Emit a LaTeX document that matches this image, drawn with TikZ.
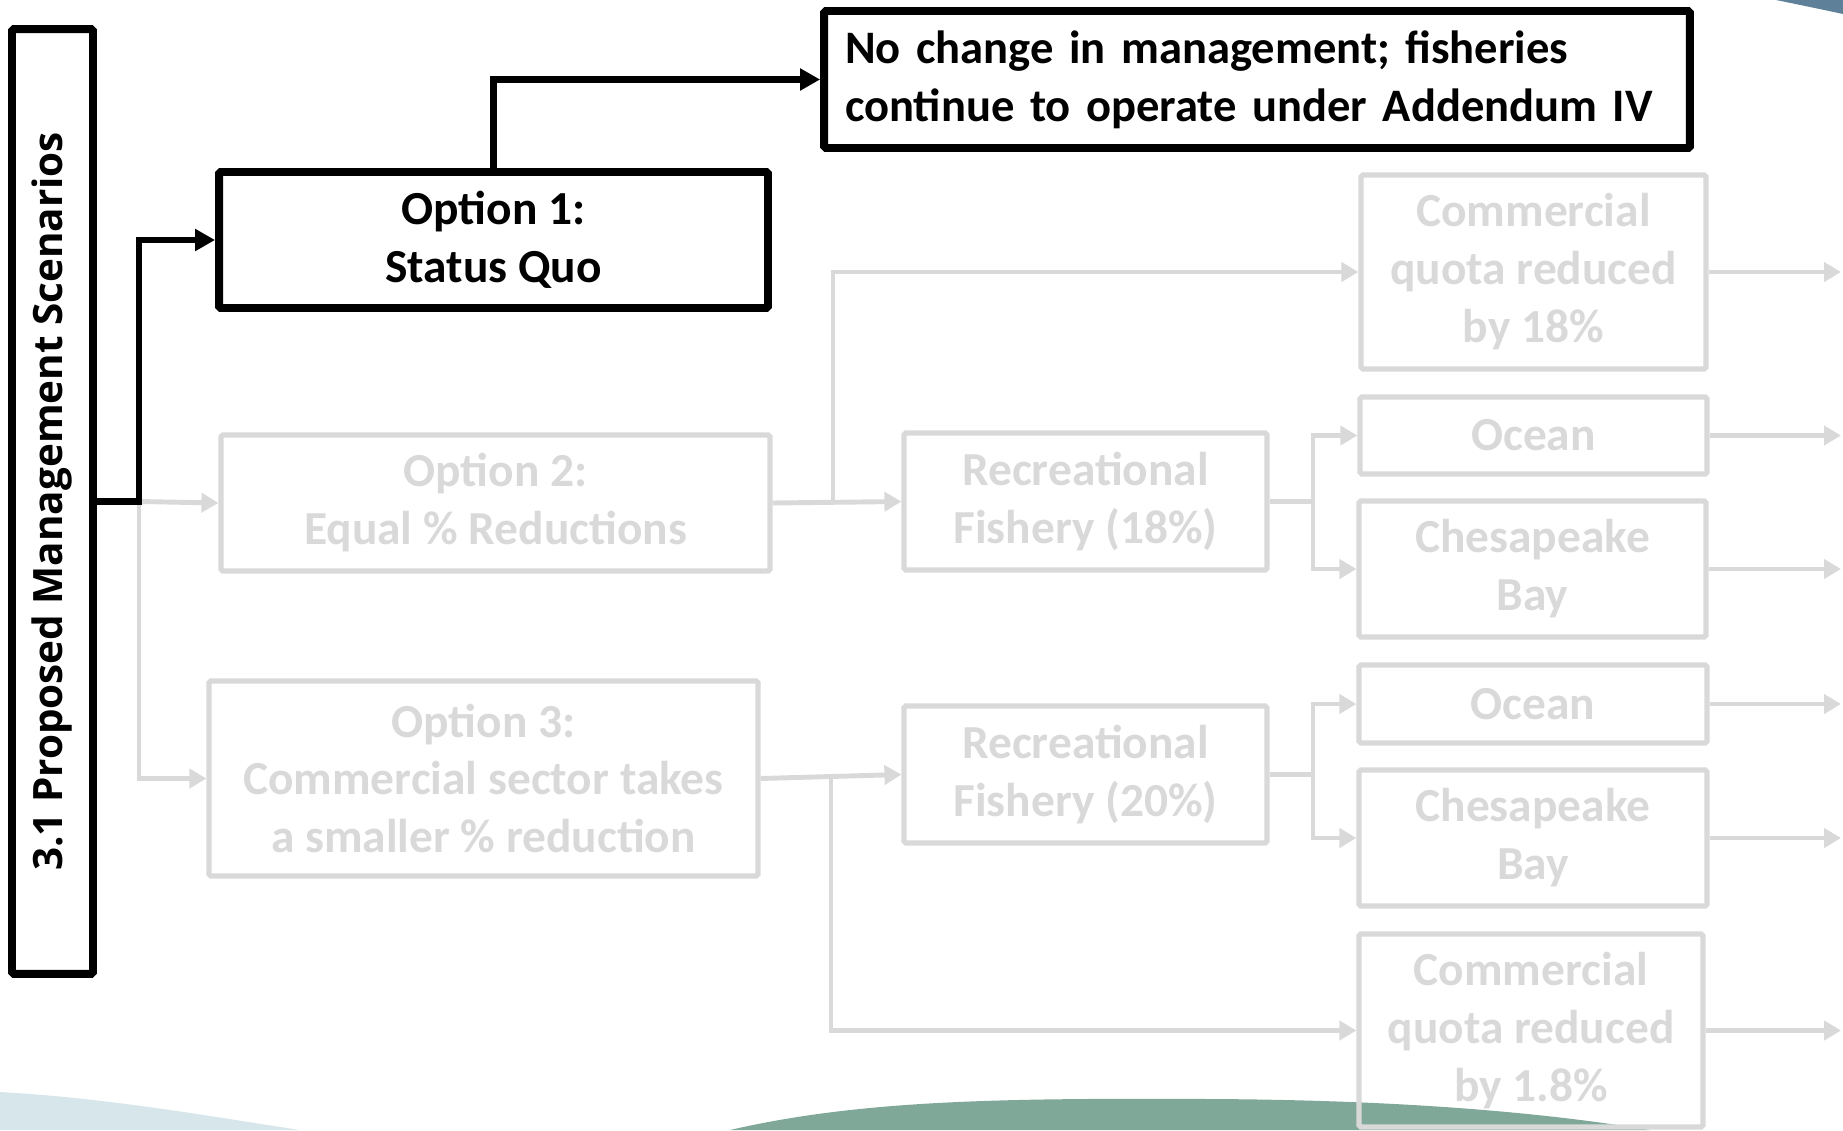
\documentclass[tikz,border=0pt]{standalone}
\usepackage{fontspec}
\setmainfont{Carlito}
\newfontfamily\titlefont{Open Sans}
\usetikzlibrary{arrows.meta}
\usetikzlibrary{positioning}
\definecolor{fade}{HTML}{D9D9D9}
\definecolor{seagreen}{HTML}{80A899}
\definecolor{mist}{HTML}{D7E6EA}
\definecolor{steel}{HTML}{5E8199}
\tikzset{
    on/.style={
           rectangle, rounded corners=1pt,
           draw=black, line width=4.5pt,
           inner sep=0pt, align=center,
           font=\fontsize{27}{33}\selectfont\bfseries,
           },
}
\tikzset{
    off/.style={
           rectangle, rounded corners=1pt,
           draw=fade, line width=3pt, text=fade,
           inner sep=0pt, align=center,
           font=\fontsize{27}{33}\selectfont\bfseries,
           },
}
\tikzset{
    onlink/.style={draw=black, line width=3.5pt, -{Triangle[length=0.4cm,width=0.42cm]}},
    offlink/.style={draw=fade, line width=2.8pt, -{Triangle[length=0.34cm,width=0.38cm]}},
}

\begin{document}
\begin{tikzpicture}[x=0.02cm,y=-0.02cm]
\useasboundingbox (0,0) rectangle (1843,1130);
% background swooshes
\fill[mist] (0,1092) .. controls (110,1098) and (220,1118) .. (300,1130) -- (0,1130) -- cycle;
\fill[seagreen] (730,1130) .. controls (860,1100) and (1000,1098) .. (1210,1099) .. controls (1400,1100) and (1540,1112) .. (1650,1130) -- cycle;
\fill[steel] (1776,0) -- (1843,0) -- (1843,14) .. controls (1815,8) .. (1776,0) -- cycle;

% boxes
\node[on,rotate=90,minimum width=18.9cm,minimum height=1.62cm,font=\titlefont\fontsize{23}{28}\selectfont\bfseries](title) at (52.5,501.5){3.1 Proposed Management Scenarios};
\node[on,minimum width=10.98cm,minimum height=2.72cm](opt1) at (493.5,240){Option 1:\\Status Quo};
\node[on,text width=16.48cm,inner xsep=0.42cm,minimum height=2.74cm,align=left,font=\fontsize{26.5}{33}\selectfont\bfseries](nochange) at (1257,79.5){No change in management; fisheries\\continue to operate under Addendum IV};
\node[off,minimum width=10.98cm,minimum height=2.72cm](opt2) at (495.5,503){Option 2:\\Equal \% Reductions};
\node[off,minimum width=10.98cm,minimum height=3.9cm](opt3) at (483.5,778.5){Option 3:\\Commercial sector takes\\a smaller \% reduction};
\node[off,minimum width=7.26cm,minimum height=2.74cm](rec18) at (1085.5,501.5){Recreational\\Fishery (18\%)};
\node[off,minimum width=7.26cm,minimum height=2.74cm](rec20) at (1085.5,774.5){Recreational\\Fishery (20\%)};
\node[off,minimum width=6.9cm,minimum height=3.88cm](com18) at (1533.5,272){Commercial\\quota reduced\\by 18\%};
\node[off,minimum width=6.94cm,minimum height=1.54cm](ocean1) at (1533.5,435.5){Ocean};
\node[off,minimum width=6.94cm,minimum height=2.72cm](ches1) at (1532.5,569){Chesapeake\\Bay};
\node[off,minimum width=6.96cm,minimum height=1.56cm](ocean2) at (1533,704){Ocean};
\node[off,minimum width=6.96cm,minimum height=2.72cm](ches2) at (1533,838){Chesapeake\\Bay};
\node[off,minimum width=6.88cm,minimum height=3.86cm](com18b) at (1531,1030.5){Commercial\\quota reduced\\by 1.8\%};

% branch points
\coordinate (split) at (139,501.5);
\coordinate (split2) at (833,503);
\coordinate (split3) at (1313,501.5);
\coordinate (split4) at (831,776.5);
\coordinate (split5) at (1313,774.5);
\coordinate (edge) at (1841,0);

% faded links
\draw[offlink] (split) -- (opt2.west);
\draw[offlink] (split) |- (opt3.west);
\draw[offlink] (opt2.east) -- (rec18.west);
\draw[offlink] (split2) |- (com18.west);
\draw[offlink] (rec18.east) -- (split3) |- (ocean1.west);
\draw[offlink] (split3) |- (ches1.west);
\draw[offlink] (opt3.east) -- (rec20.west);
\draw[offlink] (split4) |- (com18b.west);
\draw[offlink] (rec20.east) -- (split5) |- (ocean2.west);
\draw[offlink] (split5) |- (ches2.west);
\foreach \n in {com18,ocean1,ches1,ocean2,ches2,com18b}
  \draw[offlink] (\n.east) -- (\n.east -| edge);

% active links
\draw[onlink] (title.south) -- (split) |- (opt1.west);
\draw[onlink] (opt1.north) |- (nochange.west);
\end{tikzpicture}
\end{document}
